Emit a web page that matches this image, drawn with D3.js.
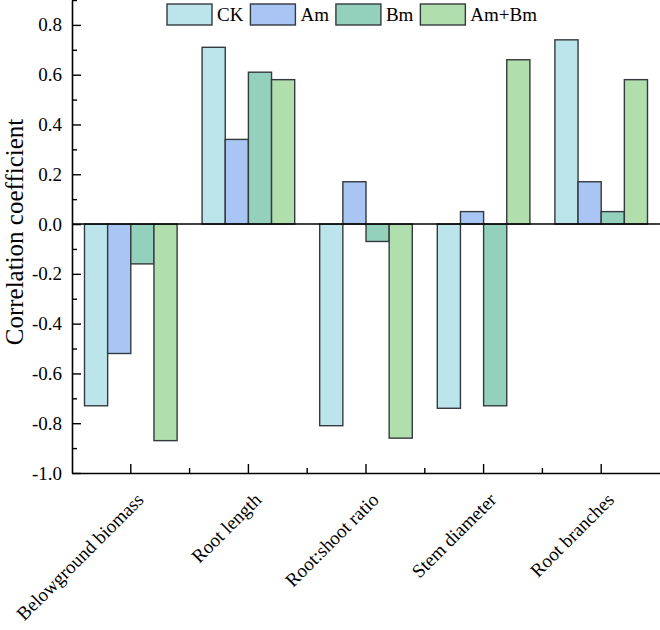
<!DOCTYPE html>
<html>
<head>
<meta charset="utf-8">
<script src="https://cdn.jsdelivr.net/npm/d3@7"></script>
<style>
    body { margin: 0; background: #fff; }
    svg { display: block; }
    svg text { font-family: "Liberation Serif", "Times New Roman", serif; fill: #000; }
</style>
</head>
<body>
<div id="grafico"></div>
<script>
// dados
var categorias = ["Belowground biomass", "Root length", "Root:shoot ratio", "Stem diameter", "Root branches"];
var series = ["CK", "Am", "Bm", "Am+Bm"];
var valoresCK = [-0.73, 0.71, -0.81, -0.74, 0.74];
var valoresAm = [-0.52, 0.34, 0.17, 0.05, 0.17];
var valoresBm = [-0.16, 0.61, -0.07, -0.73, 0.05];
var valoresAmBm = [-0.87, 0.58, -0.86, 0.66, 0.58];
var ticksY = [-1.0, -0.8, -0.6, -0.4, -0.2, 0.0, 0.2, 0.4, 0.6, 0.8];
var ticksYMenores = [-0.9, -0.7, -0.5, -0.3, -0.1, 0.1, 0.3, 0.5, 0.7, 0.9];

var cores = ["#bce5eb", "#a8c5f4", "#93d1bd", "#b1dead"];
var valores = [valoresCK, valoresAm, valoresBm, valoresAmBm];

var width = 660, height = 630;
var margin = { top: 0, right: 0, bottom: 157, left: 72 };
var plotW = width - margin.left - margin.right;
var plotH = height - margin.top - margin.bottom;

var svg = d3.select("#grafico").append("svg")
    .attr("width", width)
    .attr("height", height);

var g = svg.append("g").attr("transform", "translate(" + margin.left + "," + margin.top + ")");

var x0 = d3.scaleBand().domain(categorias).range([0, plotW]);
var x1 = d3.scaleBand().domain(series).range([12.5, x0.bandwidth() - 12.5]);
var y = d3.scaleLinear().domain([-1.0, 0.9]).range([plotH, 0]);

/* barras */
series.forEach(function(s, i) {
    g.append("g").selectAll("rect")
        .data(valores[i])
        .enter().append("rect")
        .attr("x", function(d, j) { return x0(categorias[j]) + x1(s); })
        .attr("y", function(d) { return y(Math.max(0, d)); })
        .attr("width", x1.bandwidth())
        .attr("height", function(d) { return Math.abs(y(d) - y(0)); })
        .attr("fill", cores[i])
        .attr("stroke", "#353a3e")
        .attr("stroke-width", 1.4);
});

/* linha do zero */
g.append("line")
    .attr("x1", 0).attr("x2", plotW)
    .attr("y1", y(0)).attr("y2", y(0))
    .attr("stroke", "#000").attr("stroke-width", 1.4);

/* eixo Y */
var fmt = function(d) { return d3.format(".1f")(d).replace("\u2212", "-"); };

g.append("g")
    .call(d3.axisLeft(y).tickValues(ticksYMenores).tickSize(-5).tickSizeOuter(0).tickFormat(""))
    .call(function(a) { a.select(".domain").remove(); a.selectAll("line").attr("stroke-width", 1.4); });

var eixoY = g.append("g")
    .call(d3.axisLeft(y).tickValues(ticksY).tickSize(-9).tickSizeOuter(0).tickPadding(10).tickFormat(fmt))
    .attr("font-family", null)
    .attr("font-size", null);
eixoY.select(".domain").attr("stroke-width", 1.6);
eixoY.selectAll("line").attr("stroke-width", 1.4);
eixoY.selectAll("text").style("font-size", "19px");

/* eixo X */
var eixoX = g.append("g")
    .attr("transform", "translate(0," + plotH + ")")
    .call(d3.axisBottom(x0).tickSize(-9).tickSizeOuter(0).tickFormat(""));
eixoX.select(".domain").attr("stroke-width", 1.6);
eixoX.selectAll("line").attr("stroke-width", 1.4);

var limites = categorias.slice(1);
g.append("g").attr("transform", "translate(0," + plotH + ")")
    .selectAll("line").data(limites).enter().append("line")
    .attr("x1", function(d) { return x0(d); }).attr("x2", function(d) { return x0(d); })
    .attr("y1", 0).attr("y2", -5)
    .attr("stroke", "#000").attr("stroke-width", 1.4);

g.append("g").selectAll("text").data(categorias).enter().append("text")
    .attr("transform", function(d) {
        return "translate(" + (x0(d) + x0.bandwidth() / 2 + 14) + "," + (plotH + 28) + ") rotate(-45)";
    })
    .attr("text-anchor", "end")
    .style("font-size", "19px")
    .text(function(d) { return d; });

/* título Y */
svg.append("text")
    .attr("transform", "translate(23," + 232 + ") rotate(-90)")
    .attr("text-anchor", "middle")
    .style("font-size", "25px")
    .text("Correlation coefficient");

/* legenda */
var leg = svg.append("g").attr("transform", "translate(167,4)");
var posX = 0;
series.forEach(function(s, i) {
    leg.append("rect")
        .attr("x", posX).attr("y", 0)
        .attr("width", 45).attr("height", 21)
        .attr("fill", cores[i])
        .attr("stroke", "#353a3e")
        .attr("stroke-width", 1.4);
    var t = leg.append("text")
        .attr("x", posX + 50).attr("y", 17)
        .style("font-size", "19px")
        .text(s);
    posX += 50 + t.node().getComputedTextLength() + 7;
});
</script>
</body>
</html>
